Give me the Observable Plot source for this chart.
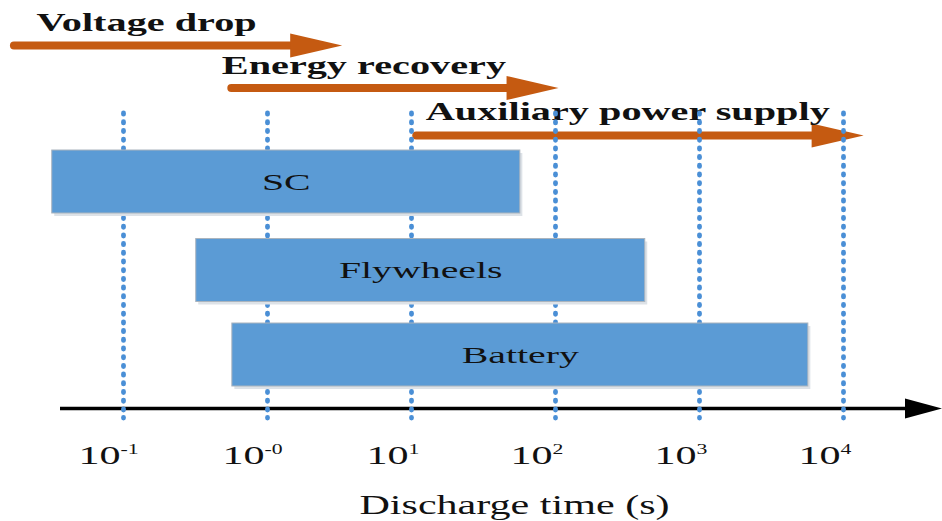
<!DOCTYPE html>
<html><head><meta charset="utf-8">
<script src="https://cdn.jsdelivr.net/npm/d3@7"></script>
<script src="https://cdn.jsdelivr.net/npm/@observablehq/plot@0.6"></script>
<style>html,body{margin:0;padding:0;background:#fff}</style>
</head><body><div id="chart"></div>
<script>
// ---- data ----
const storageTypes = ["SC", "Flywheels", "Battery"];
const dischargeMin = [0.032, 0.32, 0.57];
const dischargeMax = [57, 420, 5700];
const phaseNames = ["Voltage drop", "Energy recovery", "Auxiliary power supply"];
const phaseStart = [0.0164, 0.53, 10.2];
const phaseEnd = [3.3, 105, 13800];
const tickValues = [0.1, 1, 10, 100, 1000, 10000];
const tickBase = ["10", "10", "10", "10", "10", "10"];
const tickExponent = ["-1", "-0", "1", "2", "3", "4"];
const axisTitle = "Discharge time (s)";

// ---- layout ----
const W = 942, H = 521;
const layout = {
  decadePx: 144, firstTickPx: 123,
  phaseY: [45, 87.5, 135], phaseTextY: [30, 73, 119], phaseTextDx: [26, -6, 13],
  barY: [181.5, 270, 354.5], barHalf: 31.5,
  axisY: 408, axisStartPx: 60, gridTop: 113, gridBottom: 418,
  tickY: 463, expY: 453, titleY: 513, titleDx: 43
};
// horizontal stretch per text mark, in mark order
const stretch = [1.61, 1.66, 1.62, 1.55, 1.56];
const serif = "'Liberation Serif', 'Times New Roman', serif";
const orange = "#c55a11", blue = "#5b9bd5", gridBlue = "#4a8fd6";

const xDomain = [
  Math.pow(10, -1 - layout.firstTickPx / layout.decadePx),
  Math.pow(10, -1 + (W - layout.firstTickPx) / layout.decadePx)
];
const xs = Plot.scale({x: {type: "log", domain: xDomain, range: [0, W]}});
const shift = (v, px) => xs.invert(xs.apply(v) + px);
const head = (L, h) => ({draw(ctx) { ctx.moveTo(0, 0); ctx.lineTo(-L, -h); ctx.lineTo(-L, h); ctx.closePath(); }});

const idx3 = [0, 1, 2];

const chart = Plot.plot({
  width: W, height: H,
  marginTop: 0, marginRight: 0, marginBottom: 0, marginLeft: 0,
  style: {background: "white", overflow: "visible"},
  x: {type: "log", domain: xDomain, axis: null},
  y: {type: "linear", domain: [0, H], range: [0, H], axis: null},
  marks: [
    // phase arrows
    Plot.ruleY(idx3, {
      y: i => layout.phaseY[i],
      x1: i => shift(phaseStart[i], 4),
      x2: i => shift(phaseEnd[i], -30),
      stroke: orange, strokeWidth: 8, strokeLinecap: "round"
    }),
    Plot.dot(idx3, {
      x: i => phaseEnd[i], y: i => layout.phaseY[i],
      symbol: head(52, 12), fill: orange, stroke: "none", r: 4
    }),
    Plot.text(idx3, {
      x: i => shift(phaseStart[i], layout.phaseTextDx[i]),
      y: i => layout.phaseTextY[i],
      text: i => phaseNames[i],
      textAnchor: "start", lineAnchor: "bottom",
      fontFamily: serif, fontWeight: "bold", fontSize: 25, fill: "#111"
    }),
    // x axis line with arrowhead
    Plot.ruleY([0], {
      y: () => layout.axisY,
      x1: () => xs.invert(layout.axisStartPx),
      x2: () => shift(xDomain[1], -20),
      stroke: "#000", strokeWidth: 3.5
    }),
    Plot.dot([0], {
      x: () => shift(xDomain[1], -0.5), y: () => layout.axisY,
      symbol: head(37, 10), fill: "#000", stroke: "none", r: 4
    }),
    // dotted decade lines
    Plot.ruleX(tickValues, {
      x: d => d, y1: () => layout.gridTop, y2: () => layout.gridBottom,
      stroke: gridBlue, strokeWidth: 4.8, strokeDasharray: "1.2 7.5", strokeLinecap: "round"
    }),
    // bars (shadow + bar)
    Plot.rect(idx3, {
      x1: i => dischargeMin[i], x2: i => dischargeMax[i],
      y1: i => layout.barY[i] - layout.barHalf, y2: i => layout.barY[i] + layout.barHalf,
      fill: "#dde2e7", dx: 2.5, dy: 3
    }),
    Plot.rect(idx3, {
      x1: i => dischargeMin[i], x2: i => dischargeMax[i],
      y1: i => layout.barY[i] - layout.barHalf, y2: i => layout.barY[i] + layout.barHalf,
      fill: blue, stroke: "#aab4be", strokeWidth: 1
    }),
    Plot.text(idx3, {
      x: i => Math.sqrt(dischargeMin[i] * dischargeMax[i]),
      y: i => layout.barY[i],
      text: i => storageTypes[i],
      lineAnchor: "middle", fontFamily: serif, fontSize: 24, fill: "#111"
    }),
    // tick labels
    Plot.text(tickValues, {
      x: d => d, y: () => layout.tickY, text: (d, i) => tickBase[i],
      textAnchor: "end", lineAnchor: "bottom", dx: -3,
      fontFamily: serif, fontSize: 26, fill: "#111"
    }),
    Plot.text(tickValues, {
      x: d => d, y: () => layout.expY, text: (d, i) => tickExponent[i],
      textAnchor: "start", lineAnchor: "bottom", dx: -3,
      fontFamily: serif, fontSize: 14, fill: "#111"
    }),
    // axis title
    Plot.text([axisTitle], {
      y: () => layout.titleY, text: d => d, dx: layout.titleDx,
      lineAnchor: "bottom", fontFamily: serif, fontSize: 27, fill: "#111"
    })
  ]
});

// horizontal stretch of the lettering, as in the reference
const textGroups = chart.querySelectorAll('g[aria-label="text"]');
textGroups.forEach((g, k) => {
  const s = stretch[k] || 1.55;
  g.querySelectorAll("text").forEach(t => {
    const tr = t.getAttribute("transform");
    if (tr) {
      t.setAttribute("transform", tr + ` scale(${s},1)`);
    } else {
      const x = +(t.getAttribute("x") || 0), y = +(t.getAttribute("y") || 0);
      t.removeAttribute("x"); t.removeAttribute("y");
      t.setAttribute("transform", `translate(${x},${y}) scale(${s},1)`);
    }
  });
});

document.getElementById("chart").appendChild(chart);
</script>
</body></html>
